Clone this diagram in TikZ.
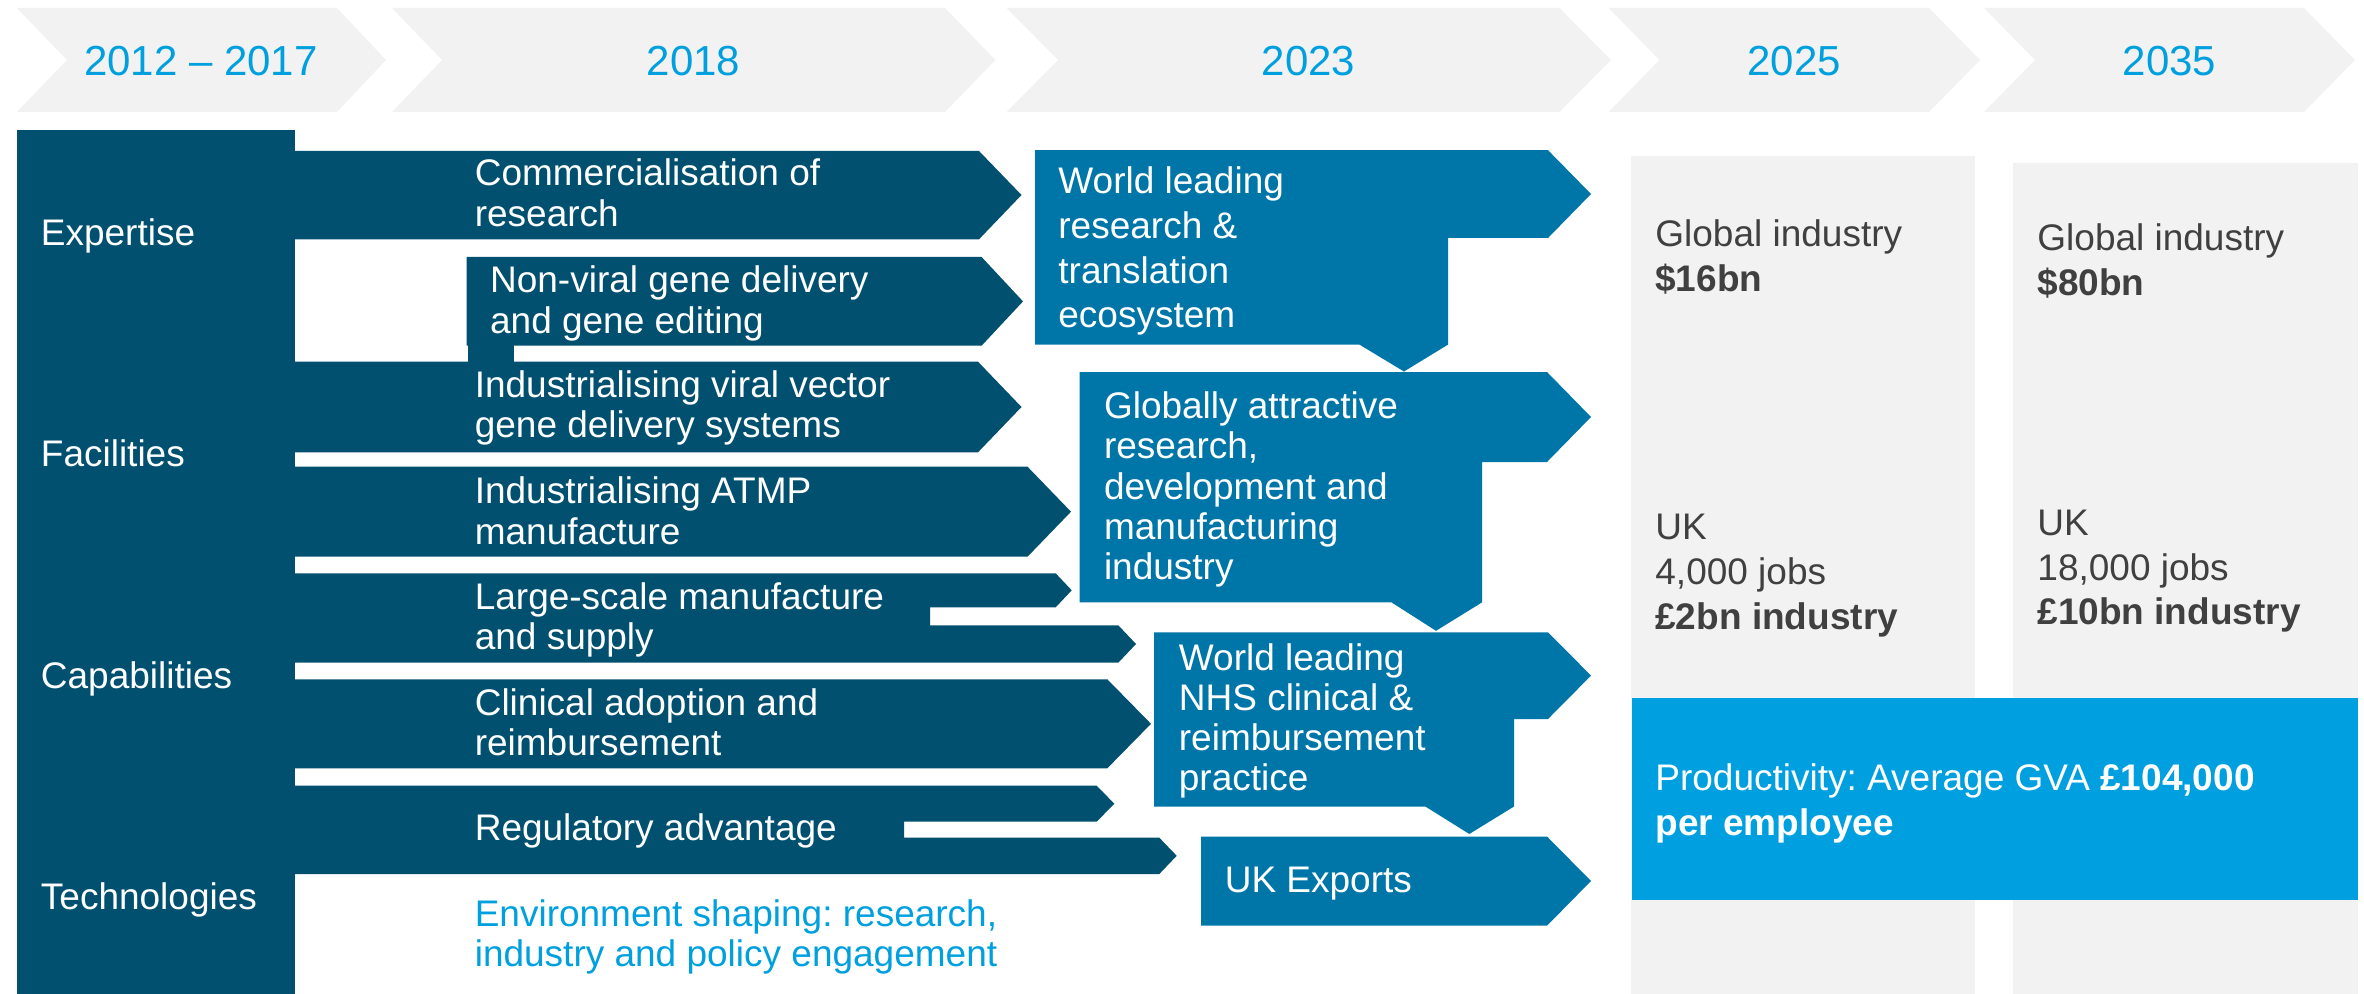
\documentclass[tikz,border=0pt]{standalone}
\usepackage{fontspec}
\setmainfont{Liberation Sans}
\frenchspacing
\definecolor{dteal}{RGB}{2,80,111}
\definecolor{mblue}{RGB}{0,118,168}
\definecolor{lblue}{RGB}{0,160,223}
\definecolor{pbox}{RGB}{0,159,223}
\definecolor{pgray}{RGB}{242,242,242}
\definecolor{tgray}{RGB}{64,64,64}
\newcommand{\txtblock}[2]{{\fontsize{18.5pt}{#1}\selectfont\frenchspacing\begin{tabular}[t]{@{}l@{}}#2\end{tabular}}}
\begin{document}
\begin{tikzpicture}[x=0.5pt,y=-0.5pt,
  wtxt/.style={inner sep=0pt, anchor=base west, text=white},
  gtxt/.style={inner sep=0pt, anchor=base west, text=tgray},
  btxt/.style={inner sep=0pt, anchor=base west, text=lblue},
  yr/.style={inner sep=0pt, anchor=base, text=lblue, font=\fontsize{21pt}{25pt}\selectfont},
  chev/.style={fill=pgray},
  darkshape/.style={fill=dteal},
  midshape/.style={fill=mblue}]
\useasboundingbox (0,0) rectangle (2364,994);
% header chevrons
\fill[chev] (16.8,8) -- (337,8) -- (386,60) -- (337,112) -- (16.8,112) -- (67,60) -- cycle;
\fill[chev] (392,8) -- (945,8) -- (995.5,60) -- (945,112) -- (392,112) -- (442,60) -- cycle;
\fill[chev] (1006.5,8) -- (1559.5,8) -- (1611,60) -- (1559.5,112) -- (1006.5,112) -- (1058,60) -- cycle;
\fill[chev] (1608.5,8) -- (1929,8) -- (1980,60) -- (1929,112) -- (1608.5,112) -- (1659.5,60) -- cycle;
\fill[chev] (1984,8) -- (2304,8) -- (2355,60) -- (2304,112) -- (1984,112) -- (2035,60) -- cycle;
\node[yr] (y1) at (201,76) {2012 \textendash{} 2017};
\node[yr] (y2) at (693.5,76) {2018};
\node[yr] (y3) at (1308.5,76) {2023};
\node[yr] (y4) at (1794,76) {2025};
\node[yr] (y5) at (2169.5,76) {2035};
% right panels
\fill[pgray] (1631,156) rectangle (1975,994);
\fill[pgray] (2013,163.3) rectangle (2358,994);
\fill[pbox] (1632,698) rectangle (2358,899.7);
% left column
\fill[darkshape] (16.8,130) rectangle (294.6,994);
% dark rows
\fill[darkshape] (292,151) -- (979,151) -- (1021.5,195) -- (979,239.3) -- (292,239.3) -- cycle;
\fill[darkshape] (466.7,257) -- (981.6,257) -- (1023,301.4) -- (981.6,345.7) -- (466.7,345.7) -- cycle;
\fill[darkshape] (468,344) rectangle (514,363);
\fill[darkshape] (292,361.7) -- (978,361.7) -- (1021.5,407) -- (978,452.3) -- (292,452.3) -- cycle;
\fill[darkshape] (292,466.7) -- (1027.5,466.7) -- (1071,511.7) -- (1027.5,556.7) -- (292,556.7) -- cycle;
\fill[darkshape] (292,573.3) -- (1055.7,573.3) -- (1071.7,590.3) -- (1055.7,607.3) -- (930,607.3) -- (930,625.3) -- (1118.3,625.3) -- (1136,644) -- (1118.3,662.7) -- (292,662.7) -- cycle;
\fill[darkshape] (292,679.3) -- (1107.3,679.3) -- (1151,723.8) -- (1107.3,768.3) -- (292,768.3) -- cycle;
\fill[darkshape] (292,785.7) -- (1096.7,785.7) -- (1114.3,803.7) -- (1096.7,821.7) -- (904,821.7) -- (904,837.7) -- (1159.3,837.7) -- (1176.7,855.8) -- (1159.3,874) -- (292,874) -- cycle;
% medium blue outcome shapes
\fill[midshape] (1035,150.2) -- (1548,150.2) -- (1591,194) -- (1548,238) -- (1448,238) -- (1448,344.6) -- (1404,371.5) -- (1359.4,344.6) -- (1035,344.6) -- cycle;
\fill[midshape] (1079.5,372) -- (1547,372) -- (1591,417) -- (1547,462) -- (1482,462) -- (1482,602.4) -- (1436,630.8) -- (1391.5,602.4) -- (1079.5,602.4) -- cycle;
\fill[midshape] (1154,632.3) -- (1548,632.3) -- (1591,675.6) -- (1548,719) -- (1514,719) -- (1514,806.5) -- (1469.3,834) -- (1425.3,806.5) -- (1154,806.5) -- cycle;
\fill[midshape] (1201,836.5) -- (1547,836.5) -- (1591,881) -- (1547,925.7) -- (1201,925.7) -- cycle;
% left labels
\node[wtxt] (l1) at (40.5,245.7) {\txtblock{20pt}{Expertise}};
\node[wtxt] (l2) at (40.5,466.7) {\txtblock{20pt}{Facilities}};
\node[wtxt] (l3) at (40.5,688) {\txtblock{20pt}{Capabilities}};
\node[wtxt] (l4) at (40.5,909) {\txtblock{20pt}{Technologies}};
% row texts
\node[wtxt] (r1) at (474.4,186) {\txtblock{20.5pt}{Commercialisation of\\research}};
\node[wtxt] (r2) at (489.7,292.3) {\txtblock{20.5pt}{Non-viral gene delivery\\and gene editing}};
\node[wtxt] (r3) at (474.4,397.7) {\txtblock{20pt}{Industrialising viral vector\\gene delivery systems}};
\node[wtxt] (r4) at (474.4,503) {\txtblock{20.5pt}{Industrialising ATMP\\manufacture}};
\node[wtxt] (r5) at (474.4,609) {\txtblock{20pt}{Large-scale manufacture\\and supply}};
\node[wtxt] (r6) at (474.4,715.7) {\txtblock{20pt}{Clinical adoption and\\reimbursement}};
\node[wtxt] (r7) at (474.4,840.7) {\txtblock{20pt}{Regulatory advantage}};
\node[btxt] (r8) at (474.4,926.3) {\txtblock{20.2pt}{Environment shaping: research,\\industry and policy engagement}};
% outcome texts
\node[wtxt] (oa) at (1058,194) {\txtblock{22.3pt}{World leading\\research \&\\translation\\ecosystem}};
\node[wtxt] (ob) at (1103.6,418.6) {\txtblock{20.1pt}{Globally attractive\\research,\\development and\\manufacturing\\industry}};
\node[wtxt] (oc) at (1178.5,670) {\txtblock{20pt}{World leading\\NHS clinical \&\\reimbursement\\practice}};
\node[wtxt] (od) at (1224.4,892.7) {\txtblock{20pt}{UK Exports}};
% panel texts
\node[gtxt] (p1) at (1655,246.7) {\txtblock{22.5pt}{Global industry\\\textbf{\$16bn}}};
\node[gtxt] (p2) at (2037,250.7) {\txtblock{22.2pt}{Global industry\\\textbf{\$80bn}}};
\node[gtxt] (p3) at (1655,539) {\txtblock{22.5pt}{UK\\4,000 jobs\\\textbf{£2bn industry}}};
\node[gtxt] (p4) at (2037,535.7) {\txtblock{22.2pt}{UK\\18,000 jobs\\\textbf{£10bn industry}}};
\node[wtxt] (p5) at (1655,790) {\txtblock{22.8pt}{Productivity: Average GVA \textbf{£104,000}\\\textbf{per employee}}};
\end{tikzpicture}
\end{document}
